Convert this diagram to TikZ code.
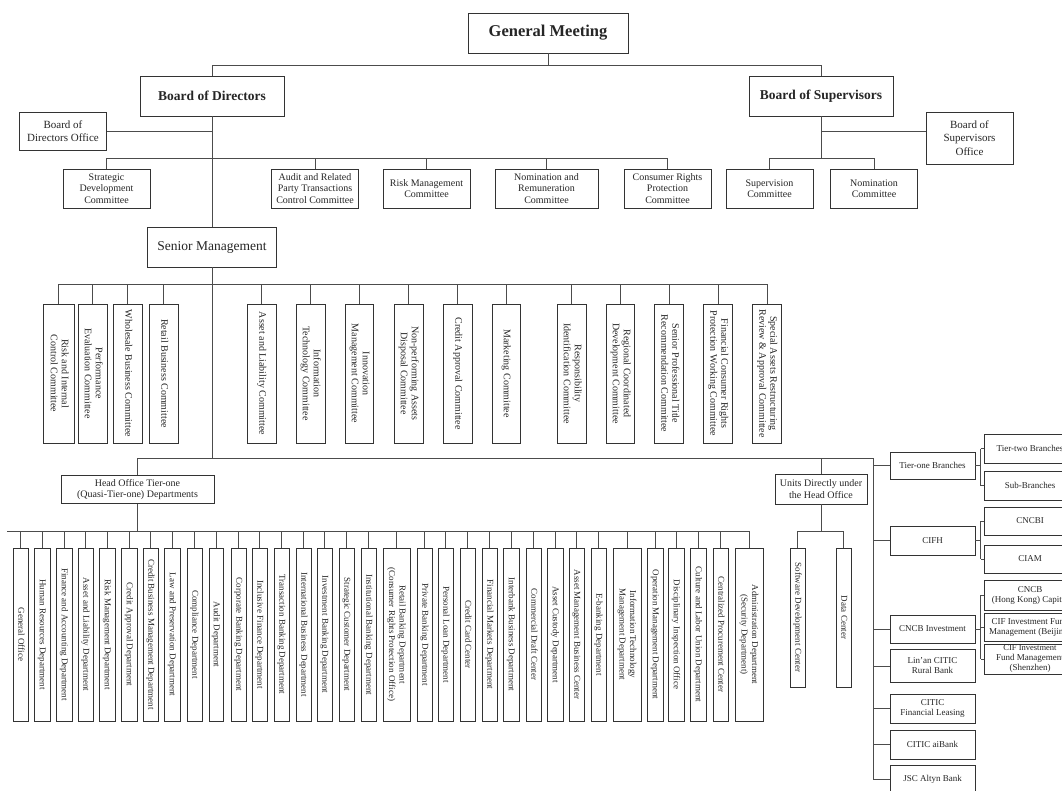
\documentclass[tikz,border=0pt]{standalone}
\usepackage{fontspec}
\setmainfont{Liberation Serif}
\usepackage{graphicx}

\newcommand{\vt}[1]{\rotatebox{-90}{\begin{tabular}{@{}c@{}}#1\end{tabular}}}

\begin{document}
\begin{tikzpicture}[x=1pt,y=-1pt,
  box/.style={draw=black!80,line width=0.9pt,inner sep=1pt,align=center,text=black!85},
  link/.style={draw=black!70,line width=0.8pt},
  big/.style={box,font=\fontsize{13.5}{16}\selectfont\bfseries,minimum width=144,minimum height=40},
  mid/.style={box,font=\fontsize{10}{11.5}\selectfont},
  sub/.style={box,font=\fontsize{9}{10}\selectfont},
  vbox/.style={box,font=\fontsize{9}{10.5}\selectfont},
  cbox/.style={box,font=\fontsize{10}{11}\selectfont}]
\clip (0,0) rectangle (1062,791);
\fill[white] (0,0) rectangle (1062,791);

\node[big,minimum width=160,font=\fontsize{16.5}{19}\selectfont\bfseries] (gm) at (548,33) {General Meeting};
\node[big] (bod) at (212,96) {Board of Directors};
\node[big] (bos) at (821,96) {Board of Supervisors};
\node[box,font=\fontsize{11}{13.5}\selectfont,minimum width=87,minimum height=38] (bodo) at (63,131) {Board of\\Directors Office};
\node[box,font=\fontsize{11}{13.5}\selectfont,minimum width=87,minimum height=52] (boso) at (969.5,138) {Board of\\Supervisors\\Office};
\node[box,font=\fontsize{13.5}{16}\selectfont,minimum width=129,minimum height=40] (sm) at (212,247) {Senior Management};

\coordinate (top) at (0,65.5);
\coordinate (bcbar) at (0,158);
\draw[link] (gm.south) -- (gm.south |- top);
\draw[link] (bod.north) -- (bod.north |- top) -- (bos.north |- top) -- (bos.north);
\draw[link] (bod.south) -- (sm.north);
\draw[link] (bodo.east) -- (bodo.east -| bod.south);
\draw[link] (bos.south) -- (bos.south |- bcbar);
\draw[link] (bos.south |- bodo.east) -- (boso.west |- bodo.east);

\foreach \x/\w/\txt [count=\i] in {106.5/87/{Strategic\\Development\\Committee},
    315/87/{Audit and Related\\Party Transactions\\Control Committee},
    426.5/87/{Risk Management\\Committee},
    546.5/103/{Nomination and\\Remuneration\\Committee},
    667.5/87/{Consumer Rights\\Protection\\Committee},
    769.5/87/{Supervision\\Committee},
    874/87/{Nomination\\Committee}}
  \node[mid,minimum width=\w,minimum height=39] (bc\i) at (\x,188.5) {\txt};
\draw[link] (bc1.north |- bcbar) -- (bc5.north |- bcbar);
\draw[link] (bc6.north |- bcbar) -- (bc7.north |- bcbar);
\foreach \i in {1,...,7}
  \draw[link] (bc\i.north) -- (bc\i.north |- bcbar);

\coordinate (smbar) at (0,284);
\foreach \x/\w/\txt [count=\i] in {58.5/31/{Risk and Internal\\Control Committee},
    92.5/29/{Performance\\Evaluation Committee},
    127.5/29/{Wholesale Business Committee},
    163.5/29/{Retail Business Committee},
    261.5/29/{Asset and Liability Committee},
    310.5/29/{Information\\Technology Committee},
    359.5/28/{Innovation\\Management Committee},
    408.5/29/{Non-performing Assets\\Disposal Committee},
    457.5/29/{Credit Approval Committee},
    506/28/{Marketing Committee},
    571.5/29/{Responsibility\\Identification Committee},
    620.5/28/{Regional Coordinated\\Development Committee},
    669/29/{Senior Professional Title\\Recommendation Committee},
    718/29/{Financial Consumer Rights\\Protection Working Committee},
    767/29/{Special Assets Restructuring\\Review \& Approval Committee}}
  \node[cbox,minimum width=\w,minimum height=139] (sc\i) at (\x,373.5) {\vt{\txt}};
\draw[link] (sc1.north |- smbar) -- (sc15.north |- smbar);
\foreach \i in {1,...,15}
  \draw[link] (sc\i.north) -- (sc\i.north |- smbar);

\node[mid,minimum width=153,minimum height=28] (hot) at (137.5,489.5) {Head Office Tier-one\\(Quasi-Tier-one) Departments};
\node[mid,minimum width=92,minimum height=30] (udh) at (821,489) {Units Directly under\\the Head Office};

\coordinate (rt) at (873,458);
\draw[link] (sm.south) -- (sm.south |- rt);
\draw[link] (hot.north |- rt) -- (rt);
\draw[link] (hot.north) -- (hot.north |- rt);
\draw[link] (udh.north) -- (udh.north |- rt);

\coordinate (dbar) at (7,531);
\foreach \x/\w/\txt [count=\i] in {20.5/15/{General Office},
    42/16/{Human Resources Department},
    64/16/{Finance and Accounting Department},
    85.5/15/{Asset and Liability Department},
    107/16/{Risk Management Department},
    129/16/{Credit Approval Department},
    150.5/15/{Credit Business Management Department},
    172/16/{Law and Preservation Department},
    194.5/15/{Compliance Department},
    216/14/{Audit Department},
    238.5/15/{Corporate Banking Department},
    259.5/15/{Inclusive Finance Department},
    281.5/15/{Transaction Banking Department},
    303.5/15/{International Business Department},
    324.5/15/{Investment Banking Department},
    346.5/15/{Strategic Customer Department},
    368.5/15/{Institutional Banking Department},
    396.5/27/{Retail Banking Department\\(Consumer Rights Protection Office)},
    424.5/15/{Private Banking Department},
    445.5/15/{Personal Loan Department},
    467.5/15/{Credit Card Center},
    489.5/15/{Financial Markets Department},
    511/16/{Interbank Business Department},
    533.5/15/{Commercial Draft Center},
    555/16/{Asset Custody Department},
    576.5/15/{Asset Management Business Center},
    598.5/15/{E-banking Department},
    627/28/{Information Technology\\Management Department},
    655/16/{Operation Management Department},
    676/16/{Disciplinary Inspection Office},
    698/16/{Culture and Labor Union Department},
    720.5/15/{Centralized Procurement Center},
    749/28/{Administration Department\\(Security Department)}}
  \node[vbox,minimum width=\w,minimum height=173] (dp\i) at (\x,634.5) {\vt{\txt}};
\draw[link] (hot.south) -- (hot.south |- dbar);
\draw[link] (dbar) -- (dp33.north |- dbar);
\foreach \i in {1,...,33}
  \draw[link] (dp\i.north) -- (dp\i.north |- dbar);

\node[vbox,minimum width=15,minimum height=139] (sdc) at (797.5,617.5) {\vt{Software Development Center}};
\node[vbox,minimum width=15,minimum height=139] (dc) at (843.5,617.5) {\vt{Data Center}};
\draw[link] (udh.south) -- (udh.south |- dbar);
\draw[link] (sdc.north |- dbar) -- (dc.north |- dbar);
\draw[link] (sdc.north) -- (sdc.north |- dbar);
\draw[link] (dc.north) -- (dc.north |- dbar);

\foreach \y/\h/\txt [count=\i] in {465.5/27/{Tier-one Branches},
    540.5/29/{CIFH},
    629/28/{CNCB Investment},
    666/33/{Lin'an CITIC\\Rural Bank},
    708.5/29/{CITIC\\Financial Leasing},
    744.5/29/{CITIC aiBank},
    779/28/{JSC Altyn Bank}}
  \node[sub,minimum width=85,minimum height=\h] (sb\i) at (932.5,\y) {\txt};
\draw[link] (rt) -- (rt |- sb7.west);
\foreach \i in {1,...,7}
  \draw[link] (sb\i.west) -- (sb\i.west -| rt);

\foreach \y/\h/\txt [count=\i] in {448.5/29/{Tier-two Branches},
    485.5/29/{Sub-Branches},
    521/28/{CNCBI},
    559/28/{CIAM},
    595/30/{CNCB\\(Hong Kong) Capital},
    627/28/{CIF Investment Fund\\Management (Beijing)},
    659/30/{\fontsize{8.5}{8.7}\selectfont CIF Investment\\Fund Management\\(Shenzhen)}}
  \node[sub,minimum width=92,minimum height=\h] (tb\i) at (1030,\y) {\txt};

\coordinate (br) at (980.5,0);
\foreach \s/\a/\b in {1/1/2, 2/3/4, 3/5/7} {
  \draw[link] (sb\s.east) -- (sb\s.east -| br);
  \draw[link] (tb\a.west -| br) -- (tb\b.west -| br);
}
\foreach \i in {1,...,7}
  \draw[link] (tb\i.west) -- (tb\i.west -| br);
\end{tikzpicture}
\end{document}
